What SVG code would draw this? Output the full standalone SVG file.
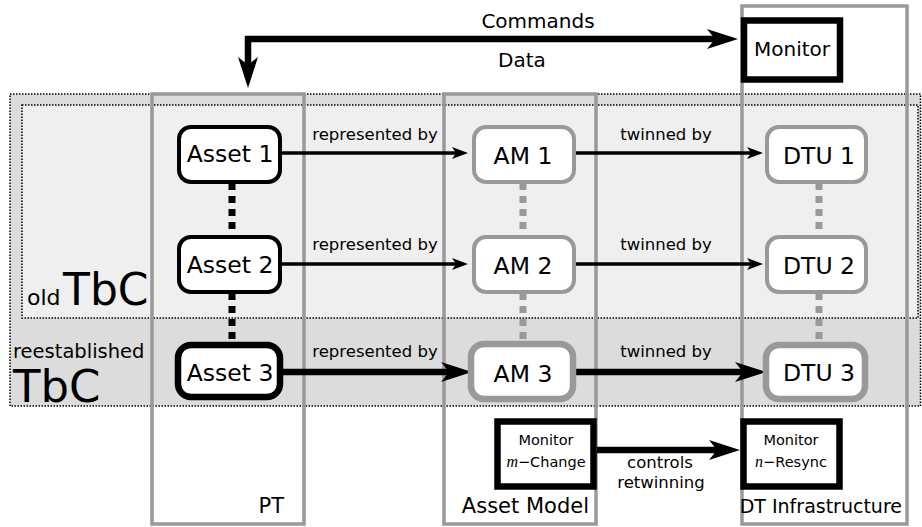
<svg xmlns="http://www.w3.org/2000/svg" width="922" height="527" viewBox="0 0 922 527">
<defs>
<style>
text{font-family:"DejaVu Sans","Liberation Sans",sans-serif;fill:#000}
.col{fill:none;stroke:#999;stroke-width:3.5}
.reg{stroke:#000;stroke-width:1.5;stroke-dasharray:1.5 1.5}
.nb{fill:#fff;stroke:#000;stroke-width:4}
.nb3{fill:#fff;stroke:#000;stroke-width:6.5}
.ng{fill:#fff;stroke:#999;stroke-width:4}
.ng3{fill:#fff;stroke:#999;stroke-width:6.5}
.mon{fill:#fff;stroke:#000;stroke-width:6.5}
.node{font-size:23.5px;text-anchor:middle}
.lbl{font-size:16.5px;text-anchor:middle}
.thin{fill:none;stroke:#000;stroke-width:3.5;marker-end:url(#ah)}
.thick{fill:none;stroke:#000;stroke-width:6.5;marker-end:url(#AH)}
.dk{stroke:#000;stroke-width:7;stroke-dasharray:7 6}
.dg{stroke:#999;stroke-width:7;stroke-dasharray:7 6}
</style>
<marker id="ah" markerUnits="userSpaceOnUse" viewBox="0 -7 17 14" markerWidth="17" markerHeight="14" refX="5" refY="0" orient="auto">
<path d="M0,-6 L16,0 L0,6 L4,0 Z" fill="#000"/>
</marker>
<marker id="AH" markerUnits="userSpaceOnUse" viewBox="0 -11 32 22" markerWidth="32" markerHeight="22" refX="10" refY="0" orient="auto-start-reverse">
<path d="M0,-10 L31,0 L0,10 L8,0 Z" fill="#000"/>
</marker>
</defs>

<g id="regions">
<rect class="reg" x="10" y="94" width="910.5" height="312" fill="#dcdcdc"/>
<rect class="reg" x="22" y="105" width="896" height="213" fill="#efefef"/>
<text x="27" y="305" font-size="22px">old</text>
<text x="63" y="305" font-size="44px">TbC</text>
<text x="13" y="358" font-size="19.5px">reestablished</text>
<text x="13" y="402" font-size="45px">TbC</text>
</g>

<g id="columns">
<g id="col-pt"><rect class="col" x="152" y="94" width="152" height="430"/><text x="284" y="513" font-size="21px" text-anchor="end">PT</text></g>
<g id="col-am"><rect class="col" x="444" y="94" width="152" height="430"/><text x="589" y="513" font-size="21px" text-anchor="end">Asset Model</text></g>
<g id="col-dt"><rect class="col" x="742" y="6" width="165" height="518"/><text x="902" y="513" font-size="19px" text-anchor="end">DT Infrastructure</text></g>
</g>

<g id="connectors">
<line class="dk" x1="232" y1="183" x2="232" y2="235"/>
<line class="dk" x1="232" y1="293" x2="232" y2="342"/>
<line class="dg" x1="523" y1="183" x2="523" y2="235"/>
<line class="dg" x1="523" y1="293" x2="523" y2="342"/>
<line class="dg" x1="819" y1="183" x2="819" y2="235"/>
<line class="dg" x1="819" y1="293" x2="819" y2="342"/>

<path class="thin" d="M282,153 H457"/>
<path class="thin" d="M576,153 H752"/>
<path class="thin" d="M282,264 H457"/>
<path class="thin" d="M576,264 H752"/>
<path class="thick" d="M283,372 H451"/>
<path class="thick" d="M576,372 H745"/>
<text class="lbl" x="375" y="140">represented by</text>
<text class="lbl" x="666" y="140">twinned by</text>
<text class="lbl" x="375" y="250">represented by</text>
<text class="lbl" x="666" y="250">twinned by</text>
<text class="lbl" x="375" y="357">represented by</text>
<text class="lbl" x="666" y="357">twinned by</text>

<path class="thick" d="M717,39 H248 V67" style="marker-start:url(#AH)"/>
<text x="538" y="28" font-size="20px" text-anchor="middle">Commands</text>
<text x="522" y="67" font-size="20px" text-anchor="middle">Data</text>

<path class="thick" d="M597,450 H719"/>
<text class="lbl" x="660" y="468">controls</text>
<text class="lbl" x="661" y="488">retwinning</text>
</g>

<g id="asset1"><rect class="nb" x="179" y="127" width="101" height="55" rx="12"/><text class="node" x="230" y="162">Asset 1</text></g>
<g id="asset2"><rect class="nb" x="179" y="237" width="101" height="55" rx="12"/><text class="node" x="230" y="273">Asset 2</text></g>
<g id="asset3"><rect class="nb3" x="178" y="345" width="102" height="52" rx="13"/><text class="node" x="230" y="381">Asset 3</text></g>

<g id="am1"><rect class="ng" x="474" y="127" width="100" height="55" rx="12"/><text class="node" x="523" y="164">AM 1</text></g>
<g id="am2"><rect class="ng" x="474" y="237" width="100" height="55" rx="12"/><text class="node" x="523" y="274">AM 2</text></g>
<g id="am3"><rect class="ng3" x="471" y="344" width="102" height="55" rx="13"/><text class="node" x="523" y="382">AM 3</text></g>

<g id="dtu1"><rect class="ng" x="767" y="127" width="99" height="55" rx="12"/><text class="node" x="819" y="164">DTU 1</text></g>
<g id="dtu2"><rect class="ng" x="767" y="237" width="99" height="55" rx="12"/><text class="node" x="819" y="274">DTU 2</text></g>
<g id="dtu3"><rect class="ng3" x="766" y="345" width="99" height="54" rx="13"/><text class="node" x="819" y="381">DTU 3</text></g>

<g id="monitor"><rect class="mon" x="744" y="20.5" width="96" height="59"/><text x="792" y="56" font-size="20px" text-anchor="middle">Monitor</text></g>

<g id="monitor-m"><rect class="mon" x="497.5" y="421.5" width="96" height="65"/>
<text x="546" y="445" font-size="14.5px" text-anchor="middle">Monitor</text>
<text x="546" y="467" font-size="14.5px" text-anchor="middle"><tspan font-family="'Liberation Serif',serif" font-style="italic" font-size="16px">m</tspan>−Change</text></g>

<g id="monitor-n"><rect class="mon" x="743.5" y="421.5" width="96" height="65"/>
<text x="791" y="445" font-size="14.5px" text-anchor="middle">Monitor</text>
<text x="791" y="467" font-size="14.5px" text-anchor="middle"><tspan font-family="'Liberation Serif',serif" font-style="italic" font-size="16px">n</tspan>−Resync</text></g>
</svg>
